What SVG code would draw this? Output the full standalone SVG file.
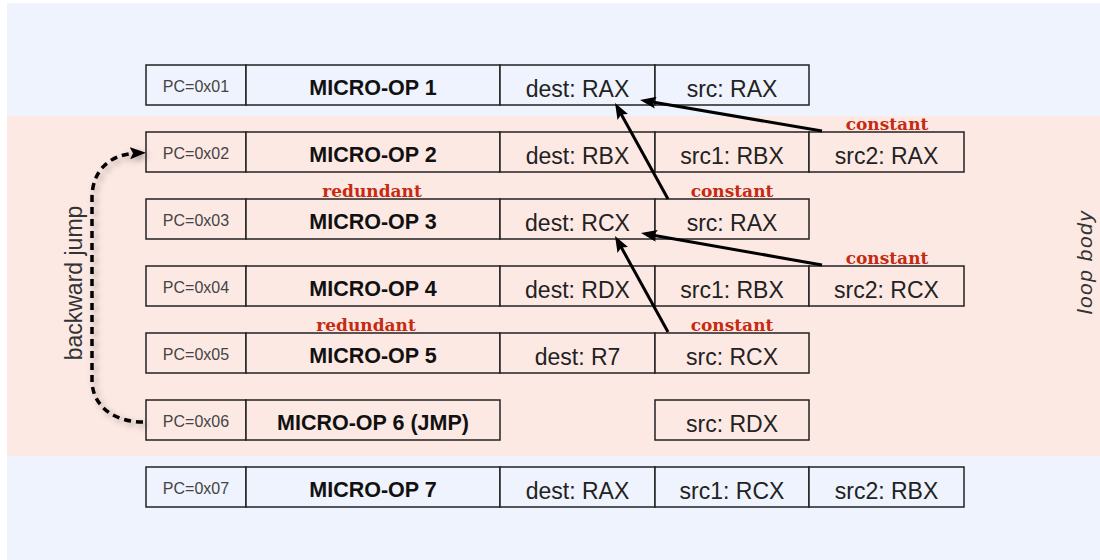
<svg xmlns="http://www.w3.org/2000/svg" width="1100" height="560" viewBox="0 0 1100 560">
  <style>
    .cb { fill: #eef3fd; stroke: #222; stroke-width: 1.5; }
    .cp { fill: #fde9e4; stroke: #222; stroke-width: 1.5; }
    .pc { font-family: "Liberation Sans", Arial, sans-serif; font-size: 16px; fill: #444; text-anchor: middle; }
    .op { font-family: "Liberation Sans", Arial, sans-serif; font-size: 21.5px; font-weight: bold; fill: #111; text-anchor: middle; }
    .rg { font-family: "Liberation Sans", Arial, sans-serif; font-size: 23px; fill: #222; text-anchor: middle; }
    .tag { font-family: "DejaVu Serif", "Liberation Serif", serif; font-size: 17px; font-weight: bold; fill: #c62b12; text-anchor: middle; }
    .side { font-family: "Liberation Sans", Arial, sans-serif; fill: #333; text-anchor: middle; }
    .arr { fill: none; stroke: #000; stroke-width: 3; }
    .dash { fill: none; stroke: #000; stroke-width: 3.5; stroke-dasharray: 7 5; }
  </style>
  <defs>
    <marker id="ah" viewBox="0 0 16 12" refX="8" refY="6" markerWidth="16" markerHeight="12" markerUnits="userSpaceOnUse" orient="auto">
      <path d="M0,0 L16,6 L0,12 L3,6 z" fill="#000"/>
    </marker>
    <filter id="sh" x="-50%" y="-10%" width="200%" height="120%">
      <feDropShadow dx="3" dy="3" stdDeviation="3" flood-color="#000" flood-opacity="0.35"/>
    </filter>
  </defs>

  <!-- backgrounds -->
  <rect x="7" y="3" width="1093" height="557" fill="#eef3fd"/>
  <rect x="7" y="116" width="1093" height="340" fill="#fde9e4"/>

  <g id="uop1">
    <rect class="cb" x="146" y="65" width="100" height="40"/>
    <rect class="cb" x="246" y="65" width="254" height="40"/>
    <rect class="cb" x="500" y="65" width="155" height="40"/>
    <rect class="cb" x="655" y="65" width="154" height="40"/>
    <text class="pc" x="196" y="92">PC=0x01</text>
    <text class="op" x="373" y="95">MICRO-OP 1</text>
    <text class="rg" x="577.5" y="96.5">dest: RAX</text>
    <text class="rg" x="732" y="96.5">src: RAX</text>
  </g>

  <g id="uop2">
    <rect class="cp" x="146" y="132" width="100" height="40"/>
    <rect class="cp" x="246" y="132" width="254" height="40"/>
    <rect class="cp" x="500" y="132" width="155" height="40"/>
    <rect class="cp" x="655" y="132" width="154" height="40"/>
    <rect class="cp" x="809" y="132" width="155" height="40"/>
    <text class="pc" x="196" y="159">PC=0x02</text>
    <text class="op" x="373" y="162">MICRO-OP 2</text>
    <text class="rg" x="577.5" y="163.5">dest: RBX</text>
    <text class="rg" x="732" y="163.5">src1: RBX</text>
    <text class="rg" x="886.5" y="163.5">src2: RAX</text>
  </g>

  <g id="uop3">
    <rect class="cp" x="146" y="199" width="100" height="40"/>
    <rect class="cp" x="246" y="199" width="254" height="40"/>
    <rect class="cp" x="500" y="199" width="155" height="40"/>
    <rect class="cp" x="655" y="199" width="154" height="40"/>
    <text class="pc" x="196" y="226">PC=0x03</text>
    <text class="op" x="373" y="229">MICRO-OP 3</text>
    <text class="rg" x="577.5" y="230.5">dest: RCX</text>
    <text class="rg" x="732" y="230.5">src: RAX</text>
  </g>

  <g id="uop4">
    <rect class="cp" x="146" y="266" width="100" height="40"/>
    <rect class="cp" x="246" y="266" width="254" height="40"/>
    <rect class="cp" x="500" y="266" width="155" height="40"/>
    <rect class="cp" x="655" y="266" width="154" height="40"/>
    <rect class="cp" x="809" y="266" width="155" height="40"/>
    <text class="pc" x="196" y="293">PC=0x04</text>
    <text class="op" x="373" y="296">MICRO-OP 4</text>
    <text class="rg" x="577.5" y="297.5">dest: RDX</text>
    <text class="rg" x="732" y="297.5">src1: RBX</text>
    <text class="rg" x="886.5" y="297.5">src2: RCX</text>
  </g>

  <g id="uop5">
    <rect class="cp" x="146" y="333" width="100" height="40"/>
    <rect class="cp" x="246" y="333" width="254" height="40"/>
    <rect class="cp" x="500" y="333" width="155" height="40"/>
    <rect class="cp" x="655" y="333" width="154" height="40"/>
    <text class="pc" x="196" y="360">PC=0x05</text>
    <text class="op" x="373" y="363">MICRO-OP 5</text>
    <text class="rg" x="577.5" y="364.5">dest: R7</text>
    <text class="rg" x="732" y="364.5">src: RCX</text>
  </g>

  <g id="uop6">
    <rect class="cp" x="146" y="400" width="100" height="40"/>
    <rect class="cp" x="246" y="400" width="254" height="40"/>
    <rect class="cp" x="655" y="400" width="154" height="40"/>
    <text class="pc" x="196" y="427">PC=0x06</text>
    <text class="op" x="373" y="430">MICRO-OP 6 (JMP)</text>
    <text class="rg" x="732" y="431.5">src: RDX</text>
  </g>

  <g id="uop7">
    <rect class="cb" x="146" y="467" width="100" height="40"/>
    <rect class="cb" x="246" y="467" width="254" height="40"/>
    <rect class="cb" x="500" y="467" width="155" height="40"/>
    <rect class="cb" x="655" y="467" width="154" height="40"/>
    <rect class="cb" x="809" y="467" width="155" height="40"/>
    <text class="pc" x="196" y="494">PC=0x07</text>
    <text class="op" x="373" y="497">MICRO-OP 7</text>
    <text class="rg" x="577.5" y="498.5">dest: RAX</text>
    <text class="rg" x="732" y="498.5">src1: RCX</text>
    <text class="rg" x="886.5" y="498.5">src2: RBX</text>
  </g>

  <g id="labels">
    <text class="tag" x="887" y="130">constant</text>
    <text class="tag" x="732" y="197">constant</text>
    <text class="tag" x="887" y="264">constant</text>
    <text class="tag" x="732" y="331">constant</text>
    <text class="tag" x="372" y="197">redundant</text>
    <text class="tag" x="366" y="331">redundant</text>
    <text class="side" font-size="23" transform="translate(82,283) rotate(-90)">backward jump</text>
    <text class="side" font-size="21" font-style="italic" letter-spacing="1.5" transform="translate(1092,262) rotate(-90)">loop body</text>
  </g>

  <g id="connectors">
    <path class="arr" d="M822,131 L647.9,101.3" marker-end="url(#ah)"/>
    <path class="arr" d="M668,199 L618.9,110" marker-end="url(#ah)"/>
    <path class="arr" d="M822,265 L648.9,234.4" marker-end="url(#ah)"/>
    <path class="arr" d="M668,332 L618.9,243" marker-end="url(#ah)"/>
    <path class="dash" filter="url(#sh)" d="M143,422 C114,422 92,406 92,380 L92,198 C92,172 108,154 138,153" marker-end="url(#ah)"/>
  </g>
</svg>
